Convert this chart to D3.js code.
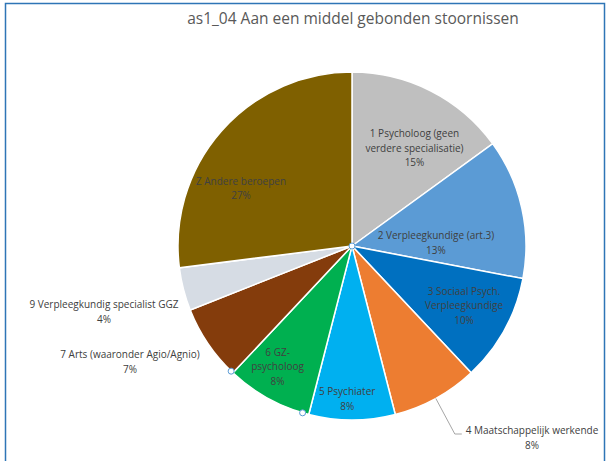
<!DOCTYPE html>
<html>
<head>
<meta charset="utf-8">
<script src="https://cdn.jsdelivr.net/npm/d3@7"></script>
<style>
  body { margin: 0; background: #fff; }
  svg { display: block; }
</style>
</head>
<body>
<div id="chart"></div>
<script>
// chart data
var title = "as1_04 Aan een middel gebonden stoornissen";
var categories = [
    "1 Psycholoog (geen verdere specialisatie)",
    "2 Verpleegkundige (art.3)",
    "3 Sociaal Psych. Verpleegkundige",
    "4 Maatschappelijk werkende",
    "5 Psychiater",
    "6 GZ-psycholoog",
    "7 Arts (waaronder Agio/Agnio)",
    "9 Verpleegkundig specialist GGZ",
    "Z Andere beroepen"
];
var values = [15, 13, 10, 8, 8, 8, 7, 4, 27];
var colors = ["#BFBFBF", "#5B9BD5", "#0070C0", "#ED7D31", "#00B0F0",
              "#00B050", "#843C0C", "#D6DCE4", "#7F6000"];

// label lines as Excel wrapped them
var labelLines = [
    ["1 Psycholoog (geen", "verdere specialisatie)"],
    ["2 Verpleegkundige (art.3)"],
    ["3 Sociaal Psych.", "Verpleegkundige"],
    ["4 Maatschappelijk werkende"],
    ["5 Psychiater"],
    ["6 GZ-", "psycholoog"],
    ["7 Arts (waaronder Agio/Agnio)"],
    ["9 Verpleegkundig specialist GGZ"],
    ["Z Andere beroepen"]
];

var width = 610, height = 461;
var cx = 352, cy = 246, radius = 174;

// label placement: polar (degrees clockwise from top, radius) for the label block centre
var labelPolar = [
    [32.6, 116], [88, 84], [118.1, 127], null, [181.8, 153],
    [211.6, 142], null, null, [297.4, 125]
];
// outside labels (no room inside the slice)
var outsideLabel = {
    3: {x: 532, y: 438, leader: true},
    6: {x: 130, y: 362},
    7: {x: 104, y: 312}
};

var svg = d3.select("#chart").append("svg")
    .attr("width", width)
    .attr("height", height);

svg.append("rect")
    .attr("width", width).attr("height", height)
    .attr("fill", "#fff");

// chart frame
svg.append("rect")
    .attr("x", 5.5).attr("y", 3.5)
    .attr("width", 599).attr("height", 470)
    .attr("fill", "none")
    .attr("stroke", "#2E75B6")
    .attr("stroke-width", 1.5);

svg.append("text")
    .attr("x", 353).attr("y", 24)
    .attr("text-anchor", "middle")
    .attr("font-family", "'Open Sans', sans-serif")
    .attr("font-size", 15.5)
    .attr("fill", "#595959")
    .text(title);

var pie = d3.pie().sort(null).value(function(d) { return d; });
var arcs = pie(values);
var arc = d3.arc().innerRadius(0).outerRadius(radius);

var g = svg.append("g").attr("transform", "translate(" + cx + "," + cy + ")");

g.selectAll("path.slice")
    .data(arcs)
    .enter()
    .append("path")
    .attr("class", "slice")
    .attr("d", arc)
    .attr("fill", function(d, i) { return colors[i]; })
    .attr("stroke", "#fff")
    .attr("stroke-width", 1.5);

function polar(angleDeg, r) {
    var a = angleDeg * Math.PI / 180;
    return [r * Math.sin(a), -r * Math.cos(a)];
}

var lineH = 14.5;

arcs.forEach(function(d, i) {
    var lines = labelLines[i].concat([values[i] + "%"]);
    var pos;
    if (labelPolar[i]) {
        pos = polar(labelPolar[i][0], labelPolar[i][1]);
    } else {
        var o = outsideLabel[i];
        pos = [o.x - cx, o.y - cy];
        if (o.leader) {
            var mid = (d.startAngle + d.endAngle) / 2;
            var p0 = [radius * Math.sin(mid), -radius * Math.cos(mid)];
            var p1 = [p0[0] + 19, 434 - cy];
            var p2 = [p1[0] + 7, p1[1]];
            g.append("polyline")
                .attr("points", [p0, p1, p2].map(function(p) { return p.join(","); }).join(" "))
                .attr("fill", "none")
                .attr("stroke", "#A6A6A6")
                .attr("stroke-width", 1);
        }
    }
    var startY = pos[1] - (lines.length - 1) * lineH / 2;
    var t = g.append("text")
        .attr("text-anchor", "middle")
        .attr("font-family", "'Open Sans', sans-serif")
        .attr("font-size", 10)
        .attr("fill", "#404040");
    lines.forEach(function(s, j) {
        t.append("tspan")
            .attr("x", pos[0])
            .attr("y", startY + j * lineH)
            .attr("dy", "0.35em")
            .text(s);
    });
});

// selection handles as in the reference
var handles = [[0, 0], polar(196.5, 174), polar(224, 174)];
g.selectAll("circle.handle")
    .data(handles)
    .enter()
    .append("circle")
    .attr("class", "handle")
    .attr("cx", function(d) { return d[0]; })
    .attr("cy", function(d) { return d[1]; })
    .attr("r", 3)
    .attr("fill", "#fff")
    .attr("stroke", "#5B9BD5")
    .attr("stroke-width", 1);
</script>
</body>
</html>
